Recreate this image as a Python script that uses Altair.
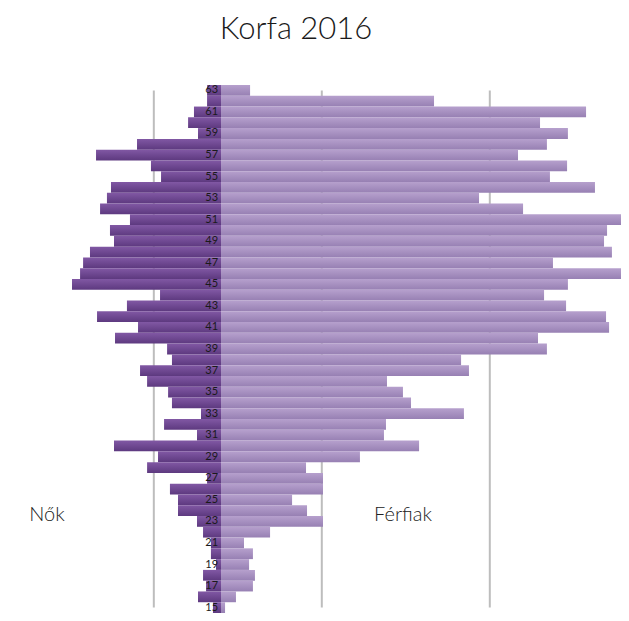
import altair as alt
import pandas as pd

ages = list(range(63, 14, -1))
women = [0.83, 0.83, 1.61, 1.96, 1.37, 5.0, 7.44, 4.17, 3.57, 6.55, 6.79, 7.2, 5.42, 6.61, 6.37, 7.8,
         8.21, 8.39, 8.87, 3.63, 5.6, 7.38, 4.94, 6.31, 3.21, 2.92, 4.82, 4.4, 3.15, 2.92, 1.19, 3.39,
         1.43, 6.37, 3.75, 4.4, 0.83, 3.04, 2.56, 2.56, 1.43, 1.07, 0.6, 0.6, 0.3, 1.07, 0.89, 1.37, 0.48]
men = [1.73, 12.68, 21.73, 18.99, 20.65, 19.4, 17.68, 20.6, 19.58, 22.26, 15.36, 17.98, 24.1, 22.98, 22.8, 23.27,
       19.76, 24.1, 20.65, 19.23, 20.54, 22.92, 23.1, 18.87, 19.4, 14.29, 14.76, 9.88, 10.83, 11.31, 14.46, 9.82,
       9.7, 11.79, 8.27, 5.06, 6.07, 6.07, 4.23, 5.12, 6.07, 2.92, 1.37, 1.9, 1.67, 2.02, 1.9, 0.89, 0.24]
label_ages = [a for a in ages if a % 2 == 1]
grid_values = [-4, 6, 16]

FONT = "Lato"
XDOM = [-12.68, 23.81]
YDOM = [14.5, 63.5]

df_w = pd.DataFrame({"age": ages, "value": [-v for v in women]})
df_m = pd.DataFrame({"age": ages, "value": men})
df_lab = pd.DataFrame({"age": label_ages})
df_grid = pd.DataFrame({"g": grid_values, "top": [ages[0]] * 3, "bot": [ages[-1]] * 3})

xs = alt.Scale(domain=XDOM, nice=False, zero=False)
ys = alt.Scale(domain=YDOM, nice=False, zero=False)


def grad(top, bottom):
    return alt.Gradient(gradient="linear",
                        stops=[alt.GradientStop(color=top, offset=0),
                               alt.GradientStop(color=bottom, offset=1)],
                        x1=0, x2=0, y1=0, y2=1)


grid = alt.Chart(df_grid).mark_rule(color="#bdbdbd", strokeWidth=2).encode(
    x=alt.X("g:Q", scale=xs, axis=None),
    y=alt.Y("top:Q", scale=ys, axis=None),
    y2="bot:Q",
)

bars_w = alt.Chart(df_w).transform_calculate(
    lo="datum.age - 0.5", hi="datum.age + 0.5", zero="0"
).mark_bar(color=grad("#8158a4", "#5d397f"), clip=True).encode(
    x=alt.X("value:Q", scale=xs, axis=None),
    x2="zero:Q",
    y=alt.Y("lo:Q", scale=ys, axis=None),
    y2="hi:Q",
)

bars_m = alt.Chart(df_m).transform_calculate(
    lo="datum.age - 0.5", hi="datum.age + 0.5", zero="0"
).mark_bar(color=grad("#b6a0cd", "#9780b3"), clip=True).encode(
    x=alt.X("zero:Q", scale=xs, axis=None),
    x2="value:Q",
    y=alt.Y("lo:Q", scale=ys, axis=None),
    y2="hi:Q",
)

labels = alt.Chart(df_lab).transform_calculate(zero="0").mark_text(
    align="right", baseline="middle", dx=-3, font=FONT, fontSize=11, color="#1a1a1a"
).encode(
    x=alt.X("zero:Q", scale=xs, axis=None),
    y=alt.Y("age:Q", scale=ys, axis=None),
    text="age:Q",
)

title = alt.Chart(pd.DataFrame({"t": ["Korfa 2016"]})).mark_text(
    align="center", baseline="alphabetic", font=FONT, fontSize=31, fontWeight=300, color="#1a1a1a"
).encode(x=alt.value(288), y=alt.value(-46), text="t:N")

nok = alt.Chart(pd.DataFrame({"t": ["Nők"]})).mark_text(
    align="center", baseline="middle", font=FONT, fontSize=20, fontWeight=300, color="#222222"
).encode(x=alt.value(39), y=alt.value(430), text="t:N")

ferfi = alt.Chart(pd.DataFrame({"t": ["Férfiak"]})).mark_text(
    align="center", baseline="middle", font=FONT, fontSize=20, fontWeight=300, color="#222222"
).encode(x=alt.value(395), y=alt.value(430), text="t:N")

chart = alt.layer(grid, bars_w, bars_m, labels, title, nok, ferfi).properties(
    width=613, height=528,
    padding={"left": 0, "top": 77, "right": 0, "bottom": 0},
    autosize=alt.AutoSizeParams(type="none"),
).configure_view(stroke=None)

chart.save("out.html", embed_options={"renderer": "svg", "actions": False})
